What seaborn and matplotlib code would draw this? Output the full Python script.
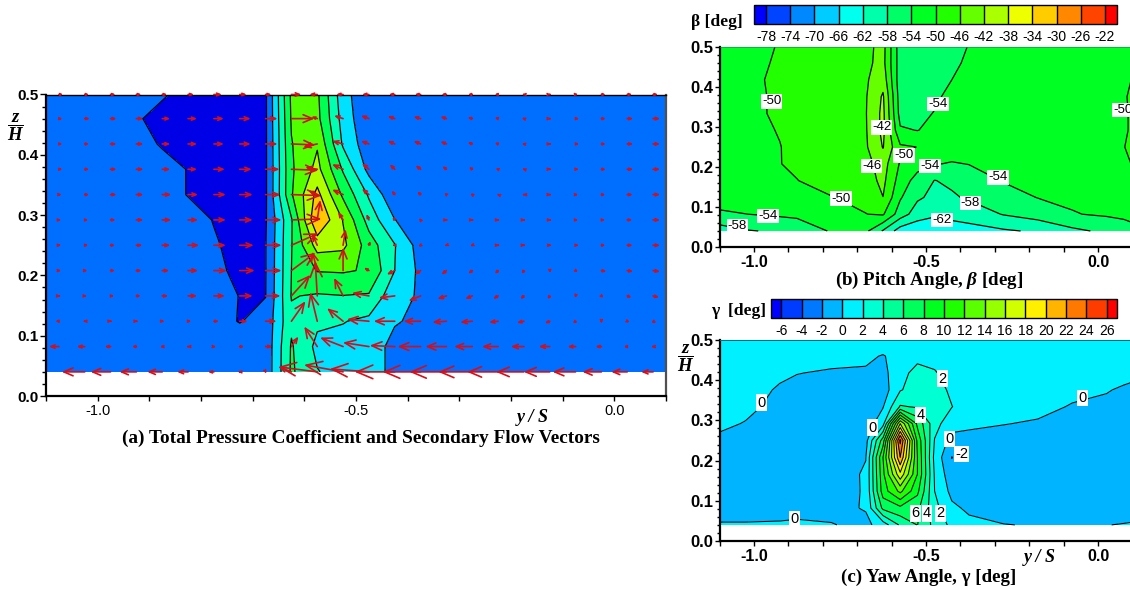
import numpy as np
import seaborn as sns
import matplotlib
matplotlib.use("Agg")
import matplotlib.pyplot as plt
from matplotlib.patches import FancyArrowPatch
from matplotlib.ticker import MultipleLocator, FormatStrFormatter

# ---------- shared measurement rows (z/H, top to bottom) ----------
z_rows = [0.5, 0.46, 0.418, 0.376, 0.334, 0.292, 0.25, 0.208, 0.166, 0.124, 0.082, 0.04]

# ---------- panel (a): total pressure band index ----------
a_x = [-1.1, -0.925, -0.875, -0.825, -0.775, -0.725, -0.675, -0.625, -0.575, -0.525, -0.475, -0.425, -0.375, 0.1]
a_cpt = [
    [1.5, 1.5, 1.05, .85, .85, .85, .85, 5.2, 5.18, 2.37, 1.2, 1.5, 1.5, 1.5],
    [1.5, 1.05, .85, .85, .85, .85, .85, 5.1, 5.28, 2.59, 1.15, 1.5, 1.5, 1.5],
    [1.5, 1.2, .95, .85, .85, .85, .85, 4.95, 5.9, 2.85, 1.36, 1.5, 1.5, 1.5],
    [1.5, 1.5, 1.2, .98, .85, .85, .85, 4.85, 6.3, 3.88, 1.69, 1.5, 1.5, 1.5],
    [1.5, 1.5, 1.2, .98, .85, .85, .85, 4.9, 7.3, 4.8, 2.87, 1.2, 1.5, 1.5],
    [1.5, 1.5, 1.5, 1.2, .98, .85, .9, 3.9, 8.0, 5.95, 3.6, 2.02, 1.5, 1.5],
    [1.5, 1.5, 1.5, 1.5, 1.05, .85, .96, 3.95, 6.4, 6.24, 4.5, 3.05, 1.55, 1.5],
    [1.5, 1.5, 1.5, 1.5, 1.1, .9, .96, 4.0, 5.05, 5.1, 4.9, 3.0, 1.76, 1.5],
    [1.5, 1.5, 1.5, 1.5, 1.3, .98, .98, 4.05, 3.9, 3.98, 3.9, 2.3, 1.9, 1.5],
    [1.5, 1.5, 1.5, 1.5, 1.3, .96, 1.3, 3.8, 3.18, 3.05, 2.75, 2.08, 1.8, 1.5],
    [1.5, 1.5, 1.5, 1.5, 1.5, 1.5, 1.3, 4.1, 2.75, 2.6, 2.5, 1.7, 1.5, 1.5],
    [1.5, 1.5, 1.5, 1.5, 1.5, 1.5, 1.3, 4.15, 3.05, 2.6, 2.5, 1.7, 1.5, 1.5],
]
a_colors = ["#0000e6", "#006eff", "#00e0ff", "#00ffb0", "#00ff50", "#50ff00", "#b0ff00", "#ffc800"]
a_levels = [0, 1, 2, 3, 4, 5, 6, 7, 9]

# ---------- panel (a): secondary flow vectors ----------
vec_y = [-1.075, -1.025, -0.975, -0.925, -0.875, -0.825, -0.775, -0.725, -0.675, -0.625, -0.575, -0.525,
         -0.475, -0.425, -0.375, -0.325, -0.275, -0.225, -0.175, -0.125, -0.075, -0.025, 0.025, 0.075]
vec_u = [
    [4, 4, 5, 5, 5, 6, 8, 7, 6, 10, -8, -7, -7, -6, -6, -5, -4, -3, -1, .5, 2, 4, 5, 5],
    [3, 5, 6, 7, 8, 9, 10, 11, 12, 23, -6, -9, -8, -7, -7, -6, -4.5, -3, -1.5, .5, 3, 4, 6, 7],
    [3, 4, 6, 7, 8, 9, 10, 11, 12, 24, -14, -11, -8, -7, -7, -6, -4.5, -3, -1.5, .5, 3, 4, 6, 7],
    [3, 4, 6, 7, 8, 9, 11, 12, 14, 27, -12, -11, -7, -5, -5, -4, -3, -2, -1, .5, 2.5, 4, 6, 7],
    [2, 4, 6, 7, 9, 10, 12, 13, 15, 30, -9, -11, -7, -3, -3, -2, -1.5, -.7, -.5, .5, 2, 3.5, 5.5, 7],
    [1.5, 3, 5, 7, 9, 10, 12, 13, 16, 30, 3, -5, -2.5, -2, -1, .5, .5, .5, .5, .8, 2, 3, 5, 7],
    [1.5, 3, 4, 6, 8, 11, 12, 14, 16, 27, -5, 2.5, 1.5, -2, -2, -1.2, -1.5, .5, .5, 1, 2.5, 3.5, 5.5, 7],
    [1.5, 2, 4, 5, 7, 10, 13, 15, 16, 24, -5, 0, -5, -8, -6, -5, -4, -3, -2, 0, 2, 5, 6, 7],
    [.8, 1.5, 3, 4, 6, 9, 11, 13, 15, 19, -2, -9, -17, -16, -12, -9, -7, -5, -3.5, -2, -.5, 2, 4, 6],
    [-3, -1, .5, .7, 1.5, 2.5, 5, 8, 11, 14, -7, -16, -22, -21, -17, -14, -12, -9, -7, -5, -2.5, 0, 2, 3],
    [-10, -8, -6, -4, -1.5, -.5, 1.5, 4, 7, 7, -13, -23, -26, -25, -23, -21, -18, -16, -13, -11, -8, -6, -3, -1],
    [0, -23, -20, -17, -15, -11, -6, -1, .5, -13, -39, -39, -39, -40, -38, -37, -34, -31, -28, -26, -23, -19, -16, -12],
]
vec_v = [
    [0] * 24,
    [0, 0, 0, 0, 0, 0, 0, 0, 0, 0, 2, 3, 3, 2.5, 2, 2, 1.2, 1, .5, 0, 0, 0, 0, 0],
    [0, 0, 0, 0, 0, 0, 0, 0, 0, -1, -3, 3, 3, 3, 3, 2.5, 1.5, 1, .3, 0, 0, 0, 0, 0],
    [0, 0, 0, 0, 0, 0, 0, 0, 0, -1, 2, 5, 6, 5, 4, 3, 2, 1, .3, 0, 0, 0, 0, 0],
    [0, 0, 0, 0, 0, 0, 0, 0, 0, -1, 4, 5, 6, 4, 3, 1.5, 1, .3, 0, 0, 0, 0, 0, 0],
    [0, 0, 0, 0, 0, 0, 0, 0, 0, 1, 20, 8, 6, 3, 1.5, 0, 0, 0, 0, 0, 0, 0, 0, 0],
    [0, 0, 0, 0, 0, 0, 0, 0, 0, 12, 11, 16, 4, 0, -1, -.5, -.7, 0, 0, 0, 0, 0, 0, 0],
    [0, 0, 0, 0, 0, 0, 0, 0, 0, 18, 19, 23, 3, -4, -4, -4, -3, -3, -3, -2, -1.5, -1, -1, -1],
    [0, 0, 0, 0, 0, 0, 0, 0, 0, 21, 35, 18, 3, -2, -5, -3, -3, -3, -3, -3, -1.5, -1.5, -1.5, -1.5],
    [0, 0, 0, 0, 0, 0, 0, 0, 0, 20, 29, 13, 2, 0, 0, -1, -1, -1, -1.5, -2, -2, -1.5, -1, -1.5],
    [0, 0, 0, 0, 0, 0, 0, 0, 0, 10, 20, 9, 4, 1, 0, 0, 0, 0, 0, 0, 0, 0, 0, 0],
    [0, 0, 0, 0, 0, 0, 0, 0, -1, 5, 5, 7, 3, 0, 0, 0, 0, 0, 0, 0, 0, 0, 0, 0],
]

# ---------- panels (b), (c): shared columns ----------
bc_x = [-1.1, -1.025, -0.925, -0.875, -0.775, -0.675, -0.625, -0.575, -0.525, -0.475, -0.425, -0.375,
        -0.275, -0.175, -0.075, 0.025, 0.075, 0.1]

beta = [
    [-51, -50.6, -49.9, -49, -48, -47.2, -44.6, -56.3, -56.2, -55.5, -54.8, -53.9, -52.5, -52, -51.5, -51.2, -51, -51],
    [-51, -50.5, -49.8, -49, -47.8, -46.8, -44.8, -56.2, -56, -55.2, -54.6, -53.5, -52.5, -52, -51.6, -51.2, -51, -51],
    [-51, -50.5, -49.6, -49, -47.5, -46.5, -43.5, -56.5, -56, -55, -54, -53, -52.3, -52, -51.6, -51.2, -50.6, -49.9],
    [-51, -50.5, -49.7, -49, -47.2, -46.3, -41.5, -56, -55.5, -54.4, -53.4, -52.8, -52.2, -52, -51.6, -51, -50.3, -49.5],
    [-51, -50.5, -49.7, -49, -47.2, -46.2, -41, -55.5, -54.6, -53.9, -53.3, -52.8, -52.2, -52, -51.6, -51, -50.3, -49.7],
    [-51, -50.6, -49.9, -49.3, -47.5, -46.3, -41, -53.5, -54.1, -53, -52.8, -52.6, -52.2, -52, -51.6, -50.8, -50.2, -49.8],
    [-51.2, -50.8, -50.05, -49.5, -47.6, -46.5, -41.8, -49.4, -50.05, -51.5, -52.2, -52.4, -52.4, -52.2, -51.8, -51, -50.05, -49.6],
    [-51.4, -50.9, -50.05, -49.6, -48, -47.2, -44.3, -50.4, -52.5, -53.8, -54.25, -53.9, -53.2, -52.8, -52.2, -51.3, -50.5, -49.9],
    [-51.6, -51, -50.6, -50.05, -49, -47.8, -45, -51.8, -55.5, -58.1, -57.3, -55.8, -53.8, -53, -52.6, -51.8, -51.2, -51],
    [-52.3, -52, -51.5, -51, -50.1, -49.3, -46.05, -53.6, -57.4, -59, -58.5, -57.5, -55.6, -53.9, -53.4, -52.7, -52.2, -52],
    [-54.6, -54.05, -53.4, -53, -51.5, -50.05, -49.6, -56, -60, -61.5, -60.8, -60.2, -57.8, -56.2, -54.2, -53.5, -53.2, -53],
    [-60, -58.3, -57.5, -57, -53.6, -53.2, -58.4, -64, -65, -64.5, -64, -63.5, -62.5, -61.5, -58.9, -57.2, -55.8, -55],
]
beta_edges = [-80, -78, -74, -70, -66, -62, -58, -54, -50, -46, -42, -38, -34, -30, -26, -22, -20]
beta_ticks = [-78, -74, -70, -66, -62, -58, -54, -50, -46, -42, -38, -34, -30, -26, -22]
beta_labels = [(-.949, .364, "-50"), (-.629, .299, "-42"), (-.658, .202, "-46"), (-.564, .229, "-50"),
               (-.465, .358, "-54"), (-.489, .202, "-54"), (-.290, .174, "-54"), (-.371, .110, "-58"),
               (-.453, .068, "-62"), (-.748, .121, "-50"), (-.960, .077, "-54"), (-1.048, .052, "-58"),
               (.073, .342, "-50")]

gamma = [
    [1, 1, 1, 1, 1, 1, 1, 1, 1, 1, 1, 1, 1, 1, 1, 1, 1, 1],
    [1, 1, .8, .7, .6, .3, -.1, .6, 1.5, 1.2, 1, 1, 1, 1, 1, 1, 1, 1],
    [1, 1, .4, .05, -.2, -.2, -.6, 1.4, 2.6, 2.2, 1, 1, .9, .9, .8, .7, .5, .35],
    [1, .9, -.25, -.5, -.6, -.5, -1, 1.85, 2.9, 2.9, 1.6, 1, .9, .8, .35, .1, -.2, -.3],
    [.8, .5, -.6, -.7, -.8, -.9, -.1, 4.2, 3.8, 3.2, 2.05, 1, .6, .4, -.1, -.35, -.5, -.6],
    [.4, -.1, -.7, -.8, -.9, -1.1, 1.2, 16, 7.5, 2.7, .8, .3, .05, -.15, -.4, -.6, -.7, -.8],
    [-.4, -.6, -.8, -.9, -.9, -.7, 7, 24.5, 9.5, 1.9, -.7, -.5, -.6, -.8, -.9, -.9, -.9, -.9],
    [-.7, -.8, -.9, -1, -1, -.05, 10, 22, 10, 1.4, -2.05, -1, -.8, -.9, -.9, -.9, -.9, -.9],
    [-.8, -.9, -1, -1, -.9, .2, 9.5, 17.5, 10, 1.8, -1.3, -1, -.9, -.9, -.9, -.9, -.9, -.9],
    [-.8, -.9, -1, -1, -1, .2, 9, 12.5, 8.5, 2, -.55, -.9, -.9, -.9, -.9, -.9, -.9, -.9],
    [-.5, -.5, -.5, -.5, -.6, .15, 6.5, 7.5, 6.5, 2.6, .4, -.35, -.7, -.6, -.6, -.6, -.5, -.5],
    [.1, .1, .15, .25, .1, -.5, .9, 4.3, 6.05, 3.4, 1.5, .5, .05, -.1, -.1, -.02, .05, .1],
]
gamma_edges = [-7, -6, -4, -2, 0, 2, 4, 6, 8, 10, 12, 14, 16, 18, 20, 22, 24, 26, 27]
gamma_ticks = [-6, -4, -2, 0, 2, 4, 6, 8, 10, 12, 14, 16, 18, 20, 22, 24, 26]
gamma_labels = [(-.978, .344, "0"), (-.881, .055, "0"), (-.655, .282, "0"), (-.453, .404, "2"),
                (-.515, .313, "4"), (-.431, .254, "0"), (-.397, .216, "-2"), (-.045, .356, "0"),
                (-.530, .069, "6"), (-.497, .069, "4"), (-.458, .069, "2")]

W, H = 1130, 590
RAMP = ["#0000ff", "#00ffff", "#00ff00", "#ffff00", "#ff0000"]
SANS = "Liberation Sans"
SERIF = "Liberation Serif"

sns.set_theme(style="white", rc={
    "font.family": [SANS, "DejaVu Sans"],
    "mathtext.fontset": "custom",
    "mathtext.rm": "Liberation Serif:bold",
    "mathtext.it": "Liberation Serif:italic:bold",
    "mathtext.bf": "Liberation Serif:bold",
    "xtick.bottom": True, "ytick.left": True,
    "xtick.color": "black", "ytick.color": "black",
    "axes.edgecolor": "black", "text.color": "black",
})

fig = plt.figure(figsize=(W / 100, H / 100), dpi=100, facecolor="white")


def box(left, top, right, bottom):
    return [left / W, 1 - bottom / H, (right - left) / W, (bottom - top) / H]


def style_axis(ax, x_size, x_weight, y_size, y_len, y_pad, top_color, top_width):
    ax.set_xlim(-1.1, 0.1)
    ax.set_ylim(0, 0.5)
    ax.xaxis.set_major_locator(MultipleLocator(0.5))
    ax.xaxis.set_minor_locator(MultipleLocator(0.1))
    ax.yaxis.set_major_locator(MultipleLocator(0.1))
    ax.yaxis.set_minor_locator(MultipleLocator(0.02))
    ax.xaxis.set_major_formatter(FormatStrFormatter("%.1f"))
    ax.yaxis.set_major_formatter(FormatStrFormatter("%.1f"))
    ax.tick_params(axis="x", which="major", direction="out", length=3.5, width=1, pad=2.5, labelsize=x_size)
    ax.tick_params(axis="x", which="minor", direction="out", length=3.5, width=1)
    ax.tick_params(axis="y", which="major", direction="out", length=y_len, width=1, pad=y_pad, labelsize=y_size)
    ax.tick_params(axis="y", which="minor", direction="out", length=y_len * 0.6, width=1)
    for t in ax.get_xticklabels():
        t.set_fontweight(x_weight)
        t.set_family(SANS)
    for t in ax.get_yticklabels():
        t.set_fontweight("bold")
        t.set_family(SANS)
    for s in ("left", "bottom"):
        ax.spines[s].set_linewidth(1.6)
        ax.spines[s].set_color("black")
    ax.spines["top"].set_linewidth(top_width)
    ax.spines["top"].set_color(top_color)
    ax.spines["right"].set_linewidth(1.6)
    ax.spines["right"].set_color("#505050")


def ftext(px, py, s, **kw):
    kw.setdefault("ha", "center")
    kw.setdefault("va", "center")
    return fig.text(px / W, 1 - py / H, s, **kw)


def angle_panel(axbox, cbbox, field, edges, ticks, labels, line_w, label_size, top_color, top_width):
    ax = fig.add_axes(box(*axbox))
    cols = sns.blend_palette(RAMP, n_colors=len(edges) - 1)
    cf = ax.contourf(bc_x, z_rows, field, levels=edges, colors=cols)
    ax.contour(bc_x, z_rows, field, levels=ticks, colors="black", linewidths=line_w, linestyles="solid")
    style_axis(ax, 11.5, "bold", 12, 3.5, 1, top_color, top_width)
    for x, z, s in labels:
        ax.text(x, z, s, ha="center", va="center", fontsize=label_size, family=SANS, clip_on=True,
                bbox=dict(facecolor="white", edgecolor="none", pad=0.9))
    cax = fig.add_axes(box(*cbbox))
    cb = fig.colorbar(cf, cax=cax, orientation="horizontal", spacing="proportional", ticks=ticks, drawedges=True)
    cb.dividers.set_color("black")
    cb.dividers.set_linewidth(1.0)
    cb.outline.set_edgecolor("black")
    cb.outline.set_linewidth(1.0)
    cax.tick_params(axis="x", length=0, pad=4, labelsize=10)
    cax.minorticks_off()
    cax.set_xticklabels([str(t) for t in ticks], family=SANS)
    return ax


# ---------- panel (a) ----------
ax_a = fig.add_axes(box(46, 94.5, 666, 396))
ax_a.contourf(a_x, z_rows, a_cpt, levels=a_levels, colors=a_colors)
ax_a.contour(a_x, z_rows, a_cpt, levels=a_levels[1:-1], colors="black", linewidths=0.9, linestyles="solid")
style_axis(ax_a, 10.5, "normal", 11, 4.5, 1, "black", 1.0)

PX_X, PX_Z = 1 / 516, 1 / 603  # one picture pixel in data units
for z, us, vs in zip(z_rows, vec_u, vec_v):
    for y, u, v in zip(vec_y, us, vs):
        length = float(np.hypot(u, v))
        if length == 0:
            continue
        head_l = max(0.4 * length, 1.5) * 0.72
        head_w = max(0.17 * length, 0.9) * 0.72
        ax_a.add_patch(FancyArrowPatch(
            (y, z), (y + u * PX_X, z + v * PX_Z),
            arrowstyle=f"->,head_length={head_l:.2f},head_width={head_w:.2f}",
            mutation_scale=1, shrinkA=0, shrinkB=0, lw=1.2, color="#d0101c",
            clip_on=z != 0.5, zorder=5))

# ---------- panels (b), (c) ----------
angle_panel((719.6, 47, 1132.4, 247), (754, 5, 1117, 24), beta, beta_edges, beta_ticks, beta_labels,
            0.9, 9.5, "#00a040", 0.5)
angle_panel((719.6, 340, 1132.4, 541), (771, 299, 1117, 318), gamma, gamma_edges, gamma_ticks, gamma_labels,
            0.75, 10.5, "#007080", 0.7)

# ---------- text ----------
serif_bold = dict(family=SERIF, fontweight="bold")
ftext(360.5, 438, "(a) Total Pressure Coefficient and Secondary Flow Vectors", fontsize=13.9, **serif_bold)
ftext(929, 280, r"(b) Pitch Angle, $\beta$ [deg]", fontsize=13.7, **serif_bold)
ftext(929, 577, "(c) Yaw Angle, γ [deg]", fontsize=13.7, **serif_bold)
ftext(743, 22, "β [deg]", fontsize=12.6, ha="right", **serif_bold)
ftext(766, 311, "γ  [deg]", fontsize=12.6, ha="right", **serif_bold)
ftext(533, 417, "y / S", fontsize=13, family=SERIF, fontweight="bold", style="italic")
ftext(1040, 558, "y / S", fontsize=13, family=SERIF, fontweight="bold", style="italic")
ftext(16, 127, r"$\dfrac{z}{H}$", fontsize=13.5, family=SERIF)
ftext(686, 358, r"$\dfrac{z}{H}$", fontsize=13.5, family=SERIF)

fig.savefig("out.png", dpi=100, facecolor="white")
